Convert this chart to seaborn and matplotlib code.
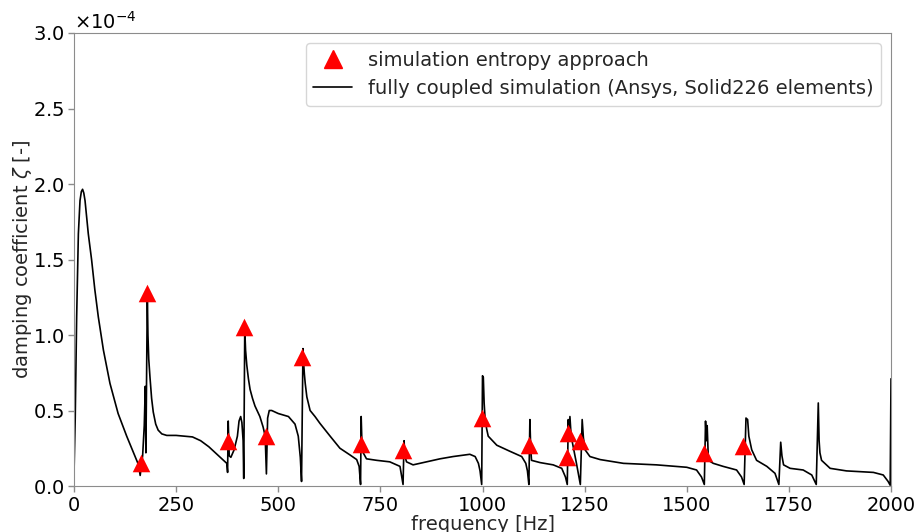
import matplotlib
matplotlib.use("Agg")
import matplotlib.pyplot as plt
from matplotlib.lines import Line2D
import seaborn as sns
import numpy as np
import pandas as pd

# Fully coupled simulation curve (frequency in Hz, damping in units of 1e-4)
line_freq = [0, 3, 6.5, 10.7, 14.7, 18, 21, 24, 27, 35, 43, 51, 59.5, 72, 88, 108, 129, 149, 158,
             162, 168, 172, 174.5, 176, 179.5, 181, 183, 186, 190, 194, 200, 206, 215, 227, 250, 270,
             290, 310, 330, 350, 362, 374, 376, 377.5, 380, 384, 392, 400, 404, 408, 411, 414,
             415.5, 418, 420, 423, 427, 431, 437, 443, 455, 463, 468, 471, 474, 478, 484, 500, 525, 541,
             549, 554, 557, 560.5, 562, 564, 566, 570, 578, 590, 602, 627, 651, 676, 692, 698, 701.5,
             703, 705, 708, 716, 741, 773, 798, 805.5, 808, 810, 814, 830, 863, 896, 928, 969,
             982, 990, 994, 998, 1000, 1002, 1004, 1006, 1010, 1014, 1035, 1067, 1096, 1106, 1110,
             1113.5, 1116, 1118, 1120, 1141, 1173, 1194, 1203, 1207.5, 1210, 1212, 1214, 1217,
             1222, 1230, 1236, 1239.5, 1244, 1247, 1251, 1263, 1288, 1345, 1426, 1500, 1524,
             1536, 1543, 1546, 1548, 1550, 1553, 1565, 1589, 1622, 1634, 1640.5, 1645, 1649,
             1652, 1659, 1671, 1696, 1716, 1725.5, 1730, 1733, 1737, 1753, 1785, 1806, 1817,
             1822, 1824, 1826, 1830, 1851, 1891, 1957, 1981, 1993, 1998, 2000]
line_zeta = [0.08, 0.45, 1.12, 1.67, 1.89, 1.95, 1.965, 1.94, 1.89, 1.67, 1.50, 1.30, 1.12, 0.90,
             0.68, 0.48, 0.33, 0.20, 0.14,
             0.07, 0.20, 0.40, 0.66, 0.22, 1.27, 1.00, 0.84, 0.72, 0.58, 0.49, 0.41, 0.37, 0.345, 0.335,
             0.335, 0.33, 0.325, 0.30, 0.26, 0.21, 0.18, 0.15, 0.09, 0.43, 0.20, 0.19, 0.24, 0.33,
             0.43, 0.46, 0.42, 0.30,
             0.05, 1.04, 0.90, 0.80, 0.71, 0.64, 0.58, 0.53, 0.46, 0.39, 0.33, 0.08, 0.45, 0.50, 0.50, 0.48,
             0.46, 0.41,
             0.33, 0.19, 0.03, 0.91, 0.82, 0.74, 0.68, 0.59, 0.50, 0.46, 0.415, 0.33, 0.25, 0.205, 0.175,
             0.13, 0.01,
             0.46, 0.27, 0.22, 0.18, 0.17, 0.16, 0.13, 0.01, 0.30, 0.20, 0.16, 0.14, 0.16, 0.18,
             0.195, 0.21,
             0.195, 0.15, 0.10, 0.01, 0.73, 0.72, 0.55, 0.46, 0.38, 0.33, 0.27, 0.23, 0.195, 0.15, 0.10,
             0.01, 0.44, 0.25, 0.17, 0.155, 0.14, 0.117, 0.06, 0.01, 0.44, 0.30, 0.46, 0.33,
             0.26, 0.15, 0.06, 0.01, 0.44, 0.32, 0.24, 0.195, 0.175, 0.15, 0.14, 0.124, 0.106,
             0.06, 0.01, 0.43, 0.30, 0.40, 0.17, 0.15, 0.13, 0.106, 0.06, 0.01, 0.45, 0.44,
             0.33, 0.24, 0.17, 0.13, 0.084, 0.01, 0.29, 0.20, 0.14, 0.117, 0.106, 0.073, 0.01,
             0.55, 0.30, 0.22, 0.17, 0.117, 0.10, 0.09, 0.073, 0.03, 0.005, 0.71]

# Entropy approach points
tri_freq = [164, 179, 377, 416, 470, 558, 703, 805, 999, 1114, 1207, 1209, 1239, 1542, 1638]
tri_zeta = [0.155, 1.28, 0.295, 1.05, 0.33, 0.855, 0.28, 0.24, 0.45, 0.27, 0.19, 0.35, 0.30, 0.22, 0.265]

x_ticks = [0, 250, 500, 750, 1000, 1250, 1500, 1750, 2000]
y_ticks = [0.0, 0.5, 1.0, 1.5, 2.0, 2.5, 3.0]

label_tri = "simulation entropy approach"
label_line = "fully coupled simulation (Ansys, Solid226 elements)"

df_line = pd.DataFrame({"f": line_freq, "z": np.array(line_zeta) * 1e-4})
df_tri = pd.DataFrame({"f": tri_freq, "z": np.array(tri_zeta) * 1e-4})

sns.set_style("white")
plt.rcParams["font.family"] = ["DejaVu Sans"]
plt.rcParams["axes.edgecolor"] = "#8c8c8c"
plt.rcParams["xtick.color"] = "#8c8c8c"
plt.rcParams["ytick.color"] = "#8c8c8c"
plt.rcParams["xtick.labelcolor"] = "black"
plt.rcParams["ytick.labelcolor"] = "black"

fig = plt.figure(figsize=(9.22, 5.32), dpi=100)
ax = fig.add_axes([74 / 922, 1 - 486 / 532, (891 - 74) / 922, (486 - 33) / 532])

sns.lineplot(data=df_line, x="f", y="z", ax=ax, color="black", linewidth=1.2,
             estimator=None, sort=False)
sns.scatterplot(data=df_tri, x="f", y="z", ax=ax, marker="^", color="red", s=160,
                linewidth=0, zorder=5)

ax.set_xlim(0, 2000)
ax.set_ylim(0, 3.0e-4)
ax.set_xticks(x_ticks)
ax.set_yticks(np.array(y_ticks) * 1e-4)
ax.ticklabel_format(axis="y", style="sci", scilimits=(0, 0), useMathText=True)
ax.tick_params(axis="both", which="major", direction="out", length=4, width=1,
               labelsize=14, pad=3, bottom=True, left=True)
ax.yaxis.get_offset_text().set_fontsize(14)
for sp in ax.spines.values():
    sp.set_visible(True)
    sp.set_color("#8c8c8c")

ax.set_xlabel("frequency [Hz]", fontsize=14, labelpad=0)
ax.set_ylabel(r"damping coefficient $\zeta$ [-]", fontsize=14, labelpad=-1)

handles = [Line2D([], [], marker="^", color="red", linestyle="none", markersize=12.5),
           Line2D([], [], color="black", linewidth=1.2)]
ax.legend(handles, [label_tri, label_line], loc="upper right", fontsize=14,
          frameon=True)

fig.savefig("out.png", dpi=100)
